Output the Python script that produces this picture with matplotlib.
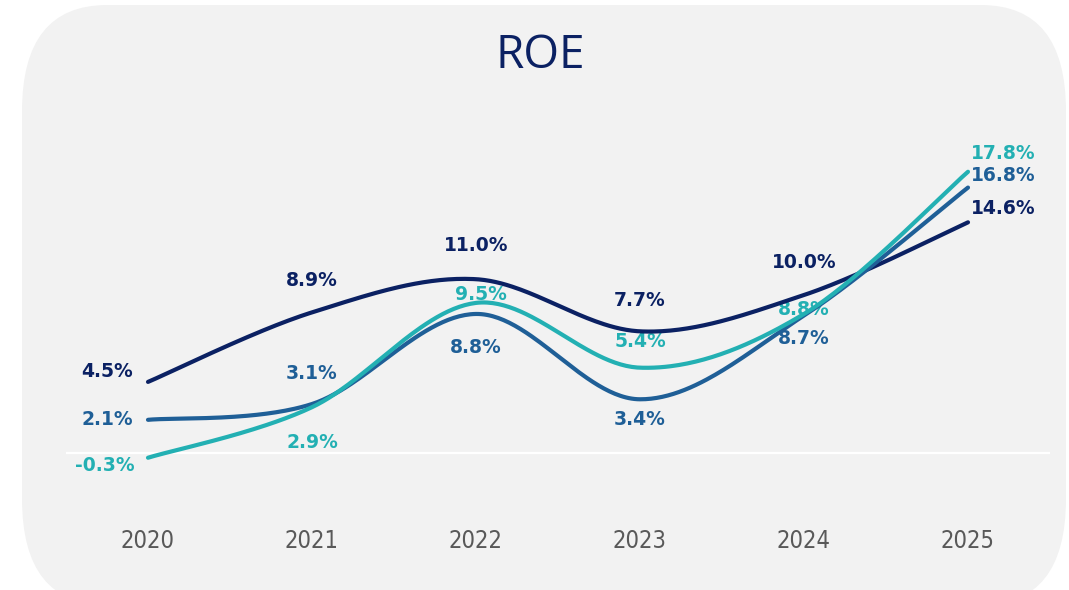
import numpy as np
import matplotlib
matplotlib.use("Agg")
import matplotlib.pyplot as plt
from matplotlib.patches import FancyBboxPatch

# data
years = [2020, 2021, 2022, 2023, 2024, 2025]
roe_navy = [4.5, 8.9, 11.0, 7.7, 10.0, 14.6]
roe_blue = [2.1, 3.1, 8.8, 3.4, 8.7, 16.8]
roe_teal = [-0.3, 2.9, 9.5, 5.4, 8.8, 17.8]

NAVY = "#0b2163"
BLUE = "#1f5f97"
TEAL = "#23b0b3"
BG = "#f2f2f2"

# label offsets in pixels (dx, dy) for each point
off_navy = [(-41, 10), (0, 32), (0, 34), (0, 31), (0, 33), (35, 14)]
off_blue = [(-41, 0), (0, 31), (0, -34), (0, -20), (0, -23), (35, 12)]
off_teal = [(-43, -8), (0, -35), (5, 8), (0, 26), (0, 4), (35, 18)]


def smooth(xs, ys, n=60):
    # excel-like smoothed line (catmull-rom as cubic bezier)
    p = np.column_stack([xs, ys]).astype(float)
    m = len(p)
    out = []
    for i in range(m - 1):
        p0 = p[max(i - 1, 0)]
        p1 = p[i]
        p2 = p[i + 1]
        p3 = p[min(i + 2, m - 1)]
        c1 = p1 + (p2 - p0) / 6.0
        c2 = p2 - (p3 - p1) / 6.0
        t = np.linspace(0, 1, n)[:, None]
        seg = ((1 - t) ** 3) * p1 + 3 * ((1 - t) ** 2) * t * c1 + 3 * (1 - t) * t ** 2 * c2 + t ** 3 * p2
        out.append(seg if i == 0 else seg[1:])
    s = np.vstack(out)
    return s[:, 0], s[:, 1]


fig = plt.figure(figsize=(10.69, 5.90), dpi=100)
fig.patch.set_facecolor("white")

# rounded card background in pixel coords
bg = fig.add_axes([0, 0, 1, 1])
bg.set_xlim(0, 1069)
bg.set_ylim(590, 0)
bg.axis("off")
card = FancyBboxPatch((22, 5), 1044, 600, boxstyle="round,pad=0,rounding_size=85",
                      mutation_aspect=1.25, facecolor=BG, edgecolor="none")
bg.add_patch(card)

fig.text(0.505, 0.905, "ROE", ha="center", va="center", fontsize=33,
         color=NAVY, family="Open Sans")

# plot area: x 2019.5..2025.5 -> px 66..1050, y -2..20 -> px 484.6..137
ax = fig.add_axes([66 / 1069, (590 - 484.6) / 590, 984 / 1069, (484.6 - 137) / 590])
ax.set_facecolor("none")
ax.set_xlim(2019.5, 2025.5)
ax.set_ylim(-2, 20)
for sp in ax.spines.values():
    sp.set_visible(False)
ax.set_yticks([])
ax.set_xticks(years)
ax.set_xticklabels([str(y) for y in years])
ax.tick_params(axis="x", length=0, pad=32, labelsize=17, labelcolor="#595959")
for lab in ax.get_xticklabels():
    lab.set_fontfamily("DejaVu Sans")
    lab.set_fontstretch("condensed")

ax.axhline(0, color="white", lw=1.6, zorder=1)

for vals, col, offs in [(roe_navy, NAVY, off_navy), (roe_blue, BLUE, off_blue), (roe_teal, TEAL, off_teal)]:
    sx, sy = smooth(years, vals)
    ax.plot(sx, sy, color=col, lw=3.0, solid_capstyle="round", zorder=3, clip_on=False)
    for x, v, (dx, dy) in zip(years, vals, offs):
        ax.annotate(f"{v:.1f}%", (x, v), xytext=(dx, dy), textcoords="offset pixels",
                    ha="center", va="center", fontsize=13.5, fontweight="bold",
                    color=col, zorder=2)

fig.savefig("out.png", dpi=100, facecolor="white")
